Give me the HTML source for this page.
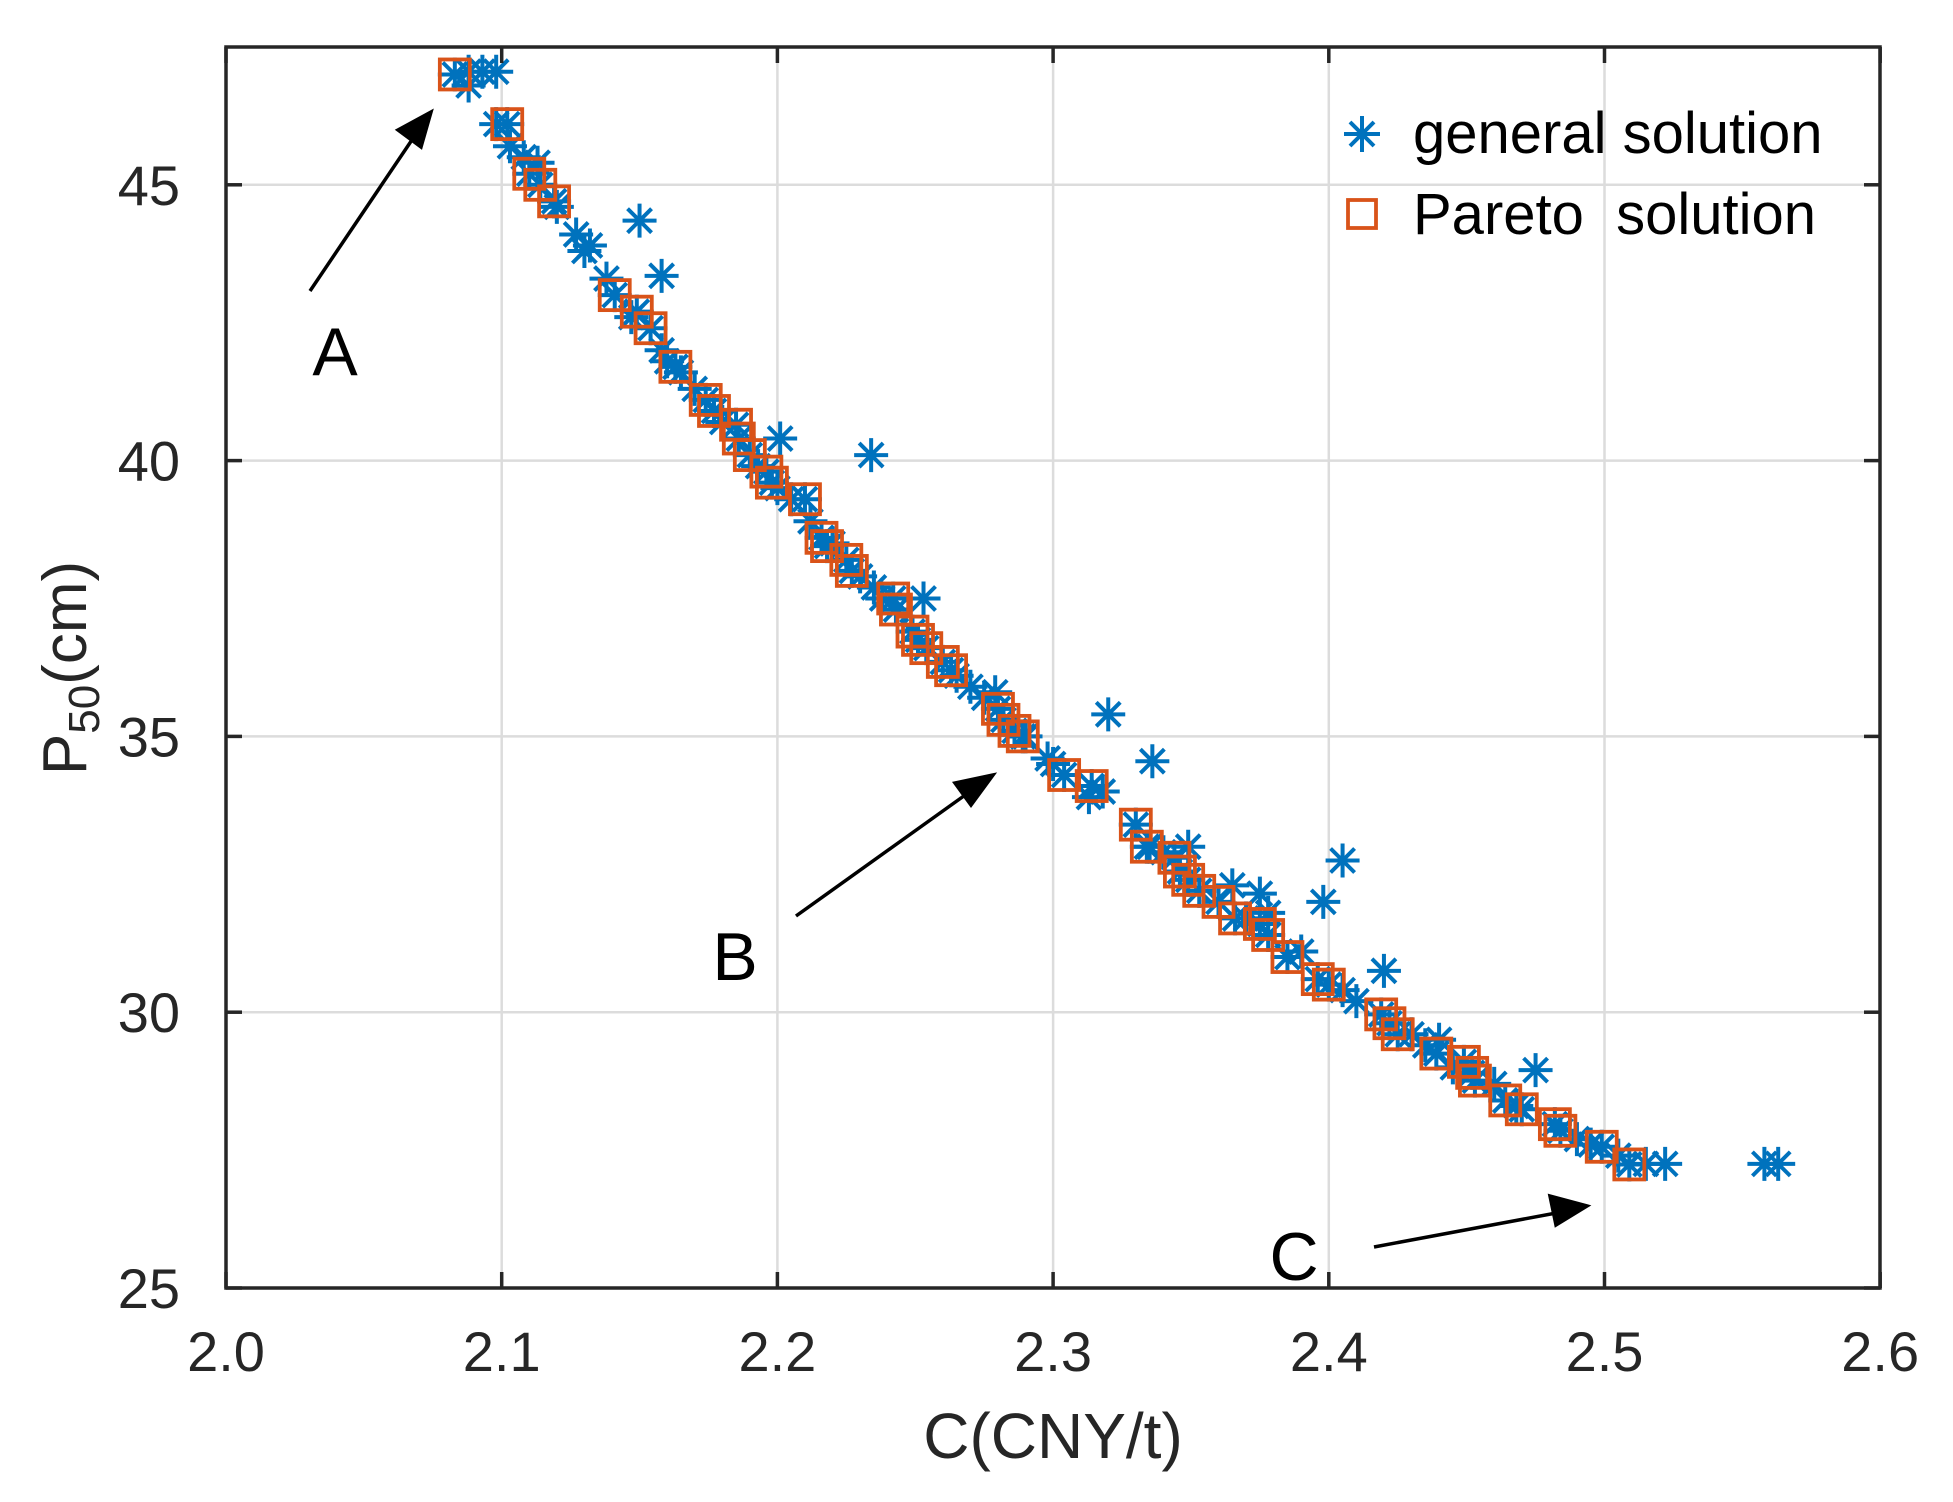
<!DOCTYPE html>
<html><head><meta charset="utf-8">
<style>
html,body{margin:0;padding:0;background:#fff;}
svg{display:block;}
text{font-family:"Liberation Sans",Arial,sans-serif;fill:#262626;}
</style></head>
<body>
<svg id="s" width="1953" height="1502" viewBox="0 0 1953 1502" xmlns="http://www.w3.org/2000/svg">
<rect width="1953" height="1502" fill="#fff"/>
<g id="grid" stroke="#dcdcdc" stroke-width="2.5"></g>
<g id="gen" stroke="#0072BD" stroke-width="4" fill="none"></g>
<g id="par" stroke="#D95319" stroke-width="3.8" fill="none"></g>
<rect x="226" y="47" width="1654" height="1241" fill="none" stroke="#262626" stroke-width="3.5"/>
<g id="ticks" stroke="#262626" stroke-width="3.5"></g>
<g id="lab" font-size="56"></g>
<text x="1053" y="1458" font-size="64" text-anchor="middle">C(CNY/t)</text>
<text transform="translate(86,668) rotate(-90)" font-size="62" text-anchor="middle">P<tspan font-size="44" dy="13">50</tspan><tspan dy="-13">(cm)</tspan></text>
<!-- legend -->
<g stroke="#0072BD" stroke-width="4">
<line x1="1344" y1="134" x2="1380" y2="134"/><line x1="1362" y1="116" x2="1362" y2="152"/>
<line x1="1350" y1="122" x2="1374" y2="146"/><line x1="1350" y1="146" x2="1374" y2="122"/>
</g>
<rect x="1348" y="200" width="28" height="28" fill="none" stroke="#D95319" stroke-width="3.8"/>
<text x="1413" y="153" font-size="58" style="fill:#000">general solution</text>
<text x="1413" y="234" font-size="58" style="fill:#000" xml:space="preserve">Pareto  solution</text>
<!-- annotations -->
<g stroke="#000" stroke-width="3.5" fill="#000">
<line x1="310" y1="291" x2="420" y2="128"/>
<polygon points="431,112 398,130 421,147"/>
<line x1="796" y1="916" x2="975" y2="788"/>
<polygon points="993,775 955,783 971,805"/>
<line x1="1374" y1="1247" x2="1567" y2="1211"/>
<polygon points="1587,1206 1550,1196 1556,1225"/>
</g>
<text x="335" y="375" font-size="68" text-anchor="middle" style="fill:#000">A</text>
<text x="735" y="980" font-size="68" text-anchor="middle" style="fill:#000">B</text>
<text x="1294" y="1280" font-size="68" text-anchor="middle" style="fill:#000">C</text>
</svg>
<script>
var NS="http://www.w3.org/2000/svg";
function X(v){return 226+(v-2.0)*2757;}
function Y(v){return 1288-(v-25)*55.16;}
function el(p,t,a){var e=document.createElementNS(NS,t);for(var k in a)e.setAttribute(k,a[k]);document.getElementById(p).appendChild(e);return e;}
for(var i=1;i<6;i++){var x=X(2+i*0.1);el('grid','line',{x1:x,y1:47,x2:x,y2:1288});}
for(var v=30;v<=45;v+=5){var y=Y(v);el('grid','line',{x1:226,y1:y,x2:1880,y2:y});}
for(var i=0;i<=6;i++){var x=X(2+i*0.1);el('ticks','line',{x1:x,y1:1288,x2:x,y2:1272});el('ticks','line',{x1:x,y1:47,x2:x,y2:63});
 var t=el('lab','text',{x:x,y:1371,'text-anchor':'middle'});t.textContent=(2+i*0.1).toFixed(1);}
for(var v=25;v<=45;v+=5){var y=Y(v);el('ticks','line',{x1:226,y1:y,x2:242,y2:y});el('ticks','line',{x1:1880,y1:y,x2:1864,y2:y});
 var t=el('lab','text',{x:180,y:y+20,'text-anchor':'end'});t.textContent=v;}
var par=[[2.083,47.0],[2.102,46.1],[2.110,45.2],[2.114,45.0],[2.119,44.7],[2.141,43.0],[2.149,42.7],[2.154,42.4],[2.163,41.7],[2.174,41.1],[2.177,40.9],[2.185,40.65],[2.186,40.4],[2.190,40.1],[2.196,39.8],[2.198,39.6],[2.210,39.3],[2.216,38.6],[2.218,38.45],[2.225,38.2],[2.227,38.0],[2.242,37.5],[2.243,37.3],[2.249,36.9],[2.251,36.75],[2.254,36.6],[2.260,36.35],[2.263,36.2],[2.280,35.5],[2.282,35.3],[2.286,35.1],[2.289,35.0],[2.304,34.3],[2.314,34.1],[2.330,33.4],[2.334,33.0],[2.344,32.8],[2.346,32.55],[2.349,32.4],[2.353,32.2],[2.360,32.0],[2.366,31.7],[2.375,31.6],[2.378,31.4],[2.385,31.0],[2.396,30.6],[2.400,30.5],[2.419,29.96],[2.422,29.8],[2.425,29.6],[2.439,29.25],[2.449,29.1],[2.452,28.9],[2.453,28.76],[2.464,28.4],[2.470,28.24],[2.482,27.97],[2.484,27.85],[2.499,27.56],[2.509,27.24]];
var gen=[[2.088,47.05],[2.093,47.05],[2.098,47.05],[2.088,46.8],[2.098,46.1],[2.103,45.7],[2.108,45.5],[2.113,45.4],[2.12,44.6],[2.127,44.1],[2.13,43.8],[2.138,43.3],[2.150,44.35],[2.158,43.35],[2.147,42.6],[2.158,42.0],[2.165,41.6],[2.17,41.3],[2.18,40.7],[2.201,40.4],[2.234,40.1],[2.200,39.5],[2.205,39.3],[2.212,38.9],[2.22,38.5],[2.235,37.7],[2.238,37.5],[2.253,37.5],[2.27,35.9],[2.275,35.7],[2.279,35.8],[2.29,35.0],[2.298,34.6],[2.313,33.9],[2.32,35.4],[2.318,34.0],[2.336,34.55],[2.335,33.0],[2.349,33.0],[2.365,32.3],[2.375,32.15],[2.398,32.0],[2.405,32.75],[2.42,30.75],[2.39,31.1],[2.41,30.2],[2.43,29.6],[2.44,29.5],[2.445,29.0],[2.46,28.7],[2.475,28.95],[2.49,27.7],[2.505,27.4],[2.515,27.25],[2.522,27.25],[2.558,27.25],[2.563,27.25],[2.378,31.8],[2.132,43.9],[2.16,41.8],[2.193,39.9],[2.23,37.9],[2.265,36.1],[2.3,34.5],[2.34,32.9],[2.37,31.7],[2.405,30.4],[2.435,29.4],[2.468,28.3],[2.495,27.6]].concat(par);
var r=17,d=12;
gen.forEach(function(p){var x=X(p[0]),y=Y(p[1]);
 el('gen','path',{d:'M'+(x-r)+' '+y+'H'+(x+r)+'M'+x+' '+(y-r)+'V'+(y+r)+'M'+(x-d)+' '+(y-d)+'L'+(x+d)+' '+(y+d)+'M'+(x-d)+' '+(y+d)+'L'+(x+d)+' '+(y-d)});});
par.forEach(function(p){var x=X(p[0]),y=Y(p[1]);el('par','rect',{x:x-15,y:y-15,width:30,height:30});});
</script>
</body></html>
